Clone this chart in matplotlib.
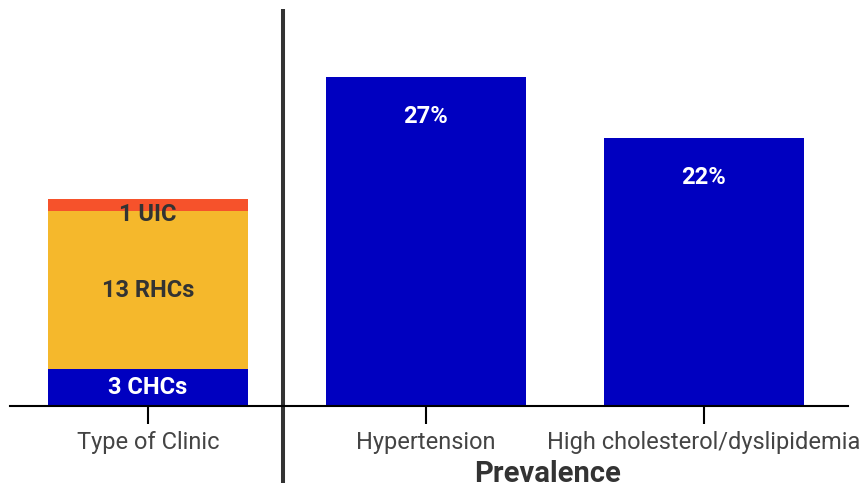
import matplotlib
matplotlib.use("Agg")
import matplotlib.pyplot as plt
from matplotlib import font_manager

# clinic mix (stacked) and condition prevalence (%)
clinic_types = ["3 CHCs", "13 RHCs", "1 UIC"]
clinic_counts = [3, 13, 1]
clinic_colors = ["#0000c0", "#f5b82c", "#f6522b"]
clinic_text_colors = ["white", "#333333", "#333333"]

conditions = ["Hypertension", "High cholesterol/dyslipidemia"]
prevalence = [27, 22]

tick_labels = ["Type of Clinic"] + conditions

installed = {f.name for f in font_manager.fontManager.ttflist}
narrow = "Liberation Sans Narrow" if "Liberation Sans Narrow" in installed else "Roboto"
plt.rcParams["font.family"] = [narrow, "DejaVu Sans"]

fig = plt.figure(figsize=(8.62, 4.93), dpi=100)
ax = fig.add_axes([10 / 862, 1 - 406 / 493, 838 / 862, 397 / 493])

width = 0.72
bottom = 0
for name, n, col, tcol in zip(clinic_types, clinic_counts, clinic_colors, clinic_text_colors):
    ax.bar(0, n, width=width, bottom=bottom, color=col)
    if n < 2:
        # thin segment: hang the label just under its top edge
        ax.text(0, bottom + n - 0.3, name, ha="center", va="top",
                color=tcol, fontsize=17, fontweight="bold")
    else:
        ax.text(0, bottom + n / 2, name, ha="center", va="center",
                color=tcol, fontsize=17, fontweight="bold")
    bottom += n

xs = range(1, len(conditions) + 1)
ax.bar(list(xs), prevalence, width=width, color="#0000c0")
for x, v in zip(xs, prevalence):
    ax.text(x, v - 3.2, f"{v}%", ha="center", va="center",
            color="white", fontsize=17, fontweight="bold")

ax.set_xlim(-0.496, 2.518)
ax.set_ylim(0, 32.6)
ax.set_xticks(range(len(tick_labels)))
ax.set_xticklabels(tick_labels, fontsize=17, color="#444444")
ax.tick_params(axis="x", length=13, width=1.5, color="black", pad=5)
ax.set_yticks([])
for side in ["top", "right", "left"]:
    ax.spines[side].set_visible(False)
ax.spines["bottom"].set_linewidth(1.5)

# divider between the clinic bar and the prevalence bars
ax.plot([0.486, 0.486], [-0.194, 1.0], transform=ax.get_xaxis_transform(),
        color="#333333", lw=2.9, clip_on=False, solid_capstyle="butt")

fig.text(548 / 862, 1 - 474 / 493, "Prevalence", ha="center", va="center",
         fontsize=21, fontweight="bold", color="#333333")

fig.savefig("out.png", dpi=100, facecolor="white")
